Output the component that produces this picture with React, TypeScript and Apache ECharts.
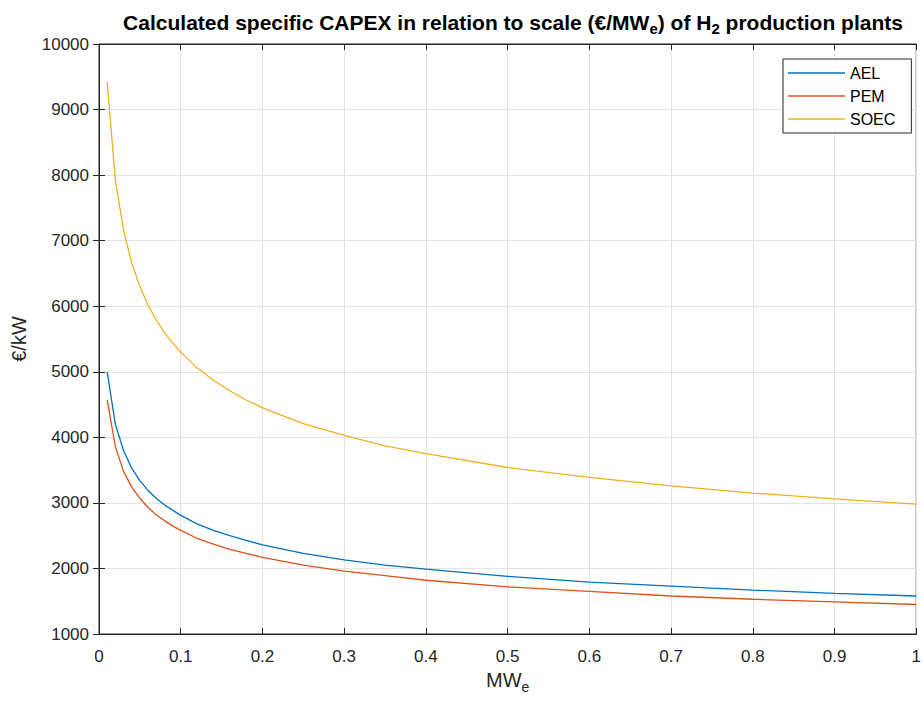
import React, { useEffect, useRef } from "react";
import * as echarts from "echarts";

const xValues = [0.01, 0.02, 0.03, 0.04, 0.05, 0.06, 0.07, 0.08, 0.09, 0.1, 0.12, 0.14, 0.16, 0.18, 0.2, 0.25, 0.3, 0.35, 0.4, 0.5, 0.6, 0.7, 0.8, 0.9, 1.0];
const aelValues = [5000, 4200, 3800, 3530, 3340, 3190, 3070, 2970, 2890, 2810, 2680, 2580, 2500, 2430, 2360, 2230, 2130, 2050, 1990, 1880, 1790, 1730, 1670, 1620, 1580];
const pemValues = [4570, 3860, 3480, 3240, 3070, 2930, 2820, 2730, 2650, 2580, 2460, 2370, 2290, 2230, 2170, 2050, 1960, 1890, 1820, 1720, 1650, 1580, 1530, 1490, 1450];
const soecValues = [9420, 7920, 7160, 6660, 6300, 6020, 5790, 5600, 5440, 5300, 5060, 4870, 4710, 4570, 4450, 4210, 4030, 3870, 3750, 3540, 3390, 3260, 3150, 3060, 2980];
const seriesNames = ["AEL", "PEM", "SOEC"];
const seriesColors = ["#0072BD", "#D95319", "#EDB120"];
const xTickLabels = ["0", "0.1", "0.2", "0.3", "0.4", "0.5", "0.6", "0.7", "0.8", "0.9", "1"];

const FONT = "'Liberation Sans', Arial, Helvetica, sans-serif";
const AXIS_COLOR = "#262626";
const GRID_COLOR = "#e3e3e3";

export default function App() {
  const ref = useRef<HTMLDivElement>(null);
  useEffect(() => {
    if (!ref.current) return;
    const chart = echarts.init(ref.current, null, { renderer: "svg" });
    const allValues = [aelValues, pemValues, soecValues];
    const series = seriesNames.map((name, i) => ({
      name,
      type: "line",
      data: xValues.map((x, j) => [x, allValues[i][j]]),
      showSymbol: false,
      smooth: false,
      lineStyle: { color: seriesColors[i], width: 1.3 },
      itemStyle: { color: seriesColors[i] },
      xAxisIndex: 0,
      yAxisIndex: 0,
    }));
    const commonX = {
      type: "value",
      min: 0,
      max: 1,
      interval: 0.1,
    };
    const commonY = {
      type: "value",
      min: 1000,
      max: 10000,
      interval: 1000,
    };
    chart.setOption({
      animation: false,
      backgroundColor: "#ffffff",
      textStyle: { fontFamily: FONT },
      title: {
        text: "Calculated specific CAPEX in relation to scale (€/MW{sub|e}) of H{sub|2} production plants",
        left: 508,
        textAlign: "center",
        top: 3,
        textStyle: {
          fontFamily: FONT,
          fontWeight: "bold",
          fontSize: 21,
          color: "#000",
          rich: {
            sub: { fontFamily: FONT, fontWeight: "bold", fontSize: 15, color: "#000", padding: [13, 0, 0, 0] },
          },
        },
      },
      legend: {
        orient: "vertical",
        left: 783,
        top: 59,
        padding: [6, 16, 6, 5],
        itemWidth: 57,
        itemHeight: 1.5,
        itemGap: 7,
        icon: "rect",
        borderColor: AXIS_COLOR,
        borderWidth: 1,
        backgroundColor: "#fff",
        textStyle: { fontFamily: FONT, fontSize: 16, color: "#000" },
        data: seriesNames,
      },
      grid: {
        left: 99,
        right: 6,
        top: 44,
        bottom: 67,
        show: true,
        borderColor: AXIS_COLOR,
        borderWidth: 1,
      },
      xAxis: [
        {
          ...commonX,
          position: "bottom",
          name: "MW{sub|e}",
          nameLocation: "middle",
          nameGap: 28,
          nameTextStyle: {
            fontFamily: FONT,
            fontSize: 20,
            color: AXIS_COLOR,
            rich: { sub: { fontFamily: FONT, fontSize: 14, color: AXIS_COLOR, padding: [14, 0, 0, 0] } },
          },
          axisLine: { show: true, lineStyle: { color: AXIS_COLOR, width: 1 } },
          axisTick: { show: true, inside: true, length: 6, lineStyle: { color: AXIS_COLOR } },
          axisLabel: {
            show: true,
            margin: 14,
            fontFamily: FONT,
            fontSize: 17,
            color: AXIS_COLOR,
            formatter: (v: number) => xTickLabels[Math.round(v * 10)] ?? "",
          },
          splitLine: { show: true, lineStyle: { color: GRID_COLOR, width: 1 } },
        },
        {
          ...commonX,
          position: "top",
          axisLine: { show: true, lineStyle: { color: AXIS_COLOR, width: 1 } },
          axisTick: { show: true, inside: true, length: 6, lineStyle: { color: AXIS_COLOR } },
          axisLabel: { show: false },
          splitLine: { show: false },
        },
      ],
      yAxis: [
        {
          ...commonY,
          position: "left",
          name: "€/kW",
          nameLocation: "middle",
          nameGap: 70,
          nameTextStyle: { fontFamily: FONT, fontSize: 20, color: AXIS_COLOR },
          axisLine: { show: true, lineStyle: { color: AXIS_COLOR, width: 1 } },
          axisTick: { show: true, inside: true, length: 6, lineStyle: { color: AXIS_COLOR } },
          axisLabel: {
            show: true,
            margin: 10,
            fontFamily: FONT,
            fontSize: 17,
            color: AXIS_COLOR,
            formatter: (v: number) => String(v),
          },
          splitLine: { show: true, lineStyle: { color: GRID_COLOR, width: 1 } },
        },
        {
          ...commonY,
          position: "right",
          axisLine: { show: true, lineStyle: { color: AXIS_COLOR, width: 1 } },
          axisTick: { show: true, inside: true, length: 6, lineStyle: { color: AXIS_COLOR } },
          axisLabel: { show: false },
          splitLine: { show: false },
        },
      ],
      series,
    });
    return () => chart.dispose();
  }, []);
  return (
    <div
      ref={ref}
      style={{ position: "fixed", left: 0, top: 0, width: 924, height: 701, background: "#fff" }}
    />
  );
}
